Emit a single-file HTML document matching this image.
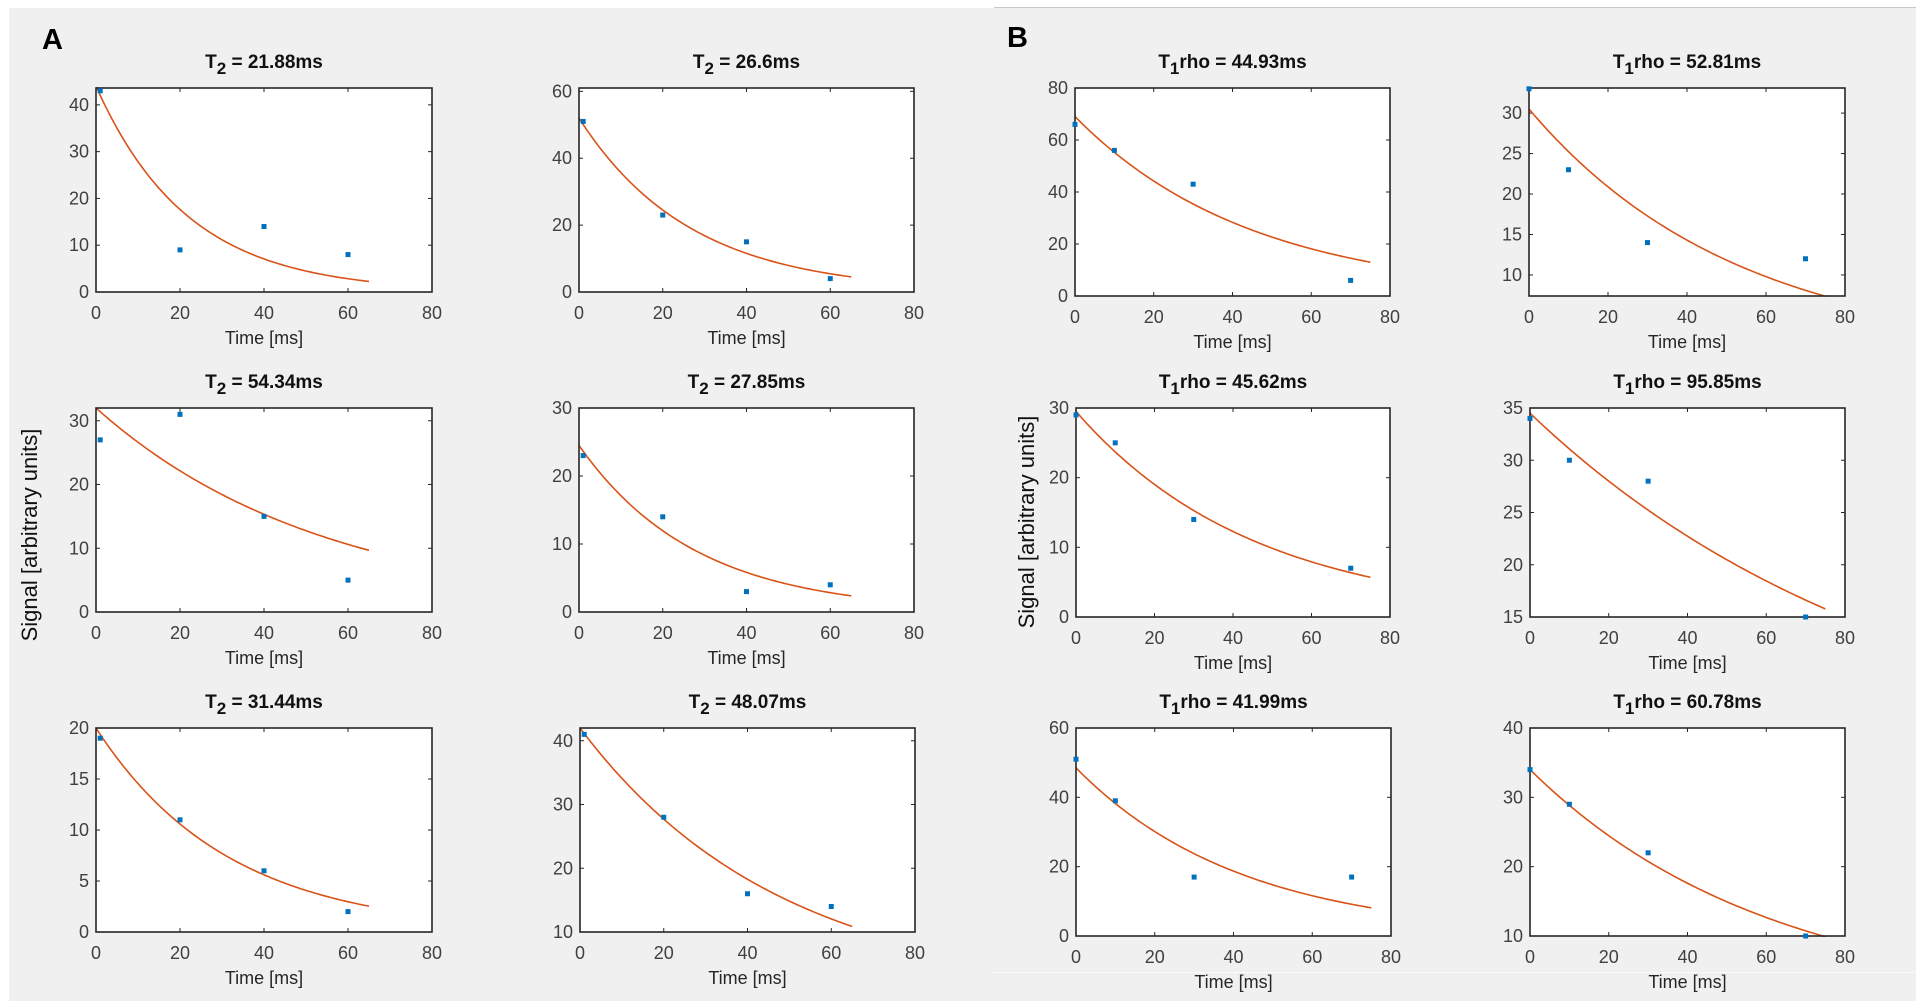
<!DOCTYPE html>
<html><head><meta charset="utf-8"><style>
body{margin:0;width:1916px;height:1003px;background:#fff;overflow:hidden;font-family:"Liberation Sans",Arial,sans-serif}
svg{display:block}
</style></head><body>
<svg id="fig" width="1916" height="1003" xmlns="http://www.w3.org/2000/svg">
<rect x="9" y="8" width="985" height="993" fill="#f0f0f0"/>
<rect x="994" y="8" width="922" height="993" fill="#f0f0f0"/>
<line x1="994" y1="7.5" x2="1916" y2="7.5" stroke="#c8c8c8"/>
<line x1="994" y1="972.5" x2="1916" y2="972.5" stroke="#fafafa"/>
<text x="42" y="49" font-size="29" font-weight="bold">A</text>
<text x="1007" y="47" font-size="29" font-weight="bold">B</text>
<text transform="translate(37,535) rotate(-90)" text-anchor="middle" font-size="22" fill="#111">Signal [arbitrary units]</text>
<text transform="translate(1034,522) rotate(-90)" text-anchor="middle" font-size="22" fill="#111">Signal [arbitrary units]</text>
</svg>
<script>
// ---- data ----
const titlePrefix = ["T2","T2","T2","T2","T2","T2","T1rho","T1rho","T1rho","T1rho","T1rho","T1rho"];
const titleValues = ["21.88","26.6","54.34","27.85","31.44","48.07","44.93","52.81","45.62","95.85","41.99","60.78"];
const timeA = [1,20,40,60];
const timeB = [0,10,30,70];
const sig1 = [43,9,14,8];
const sig2 = [51,23,15,4];
const sig3 = [27,31,15,5];
const sig4 = [23,14,3,4];
const sig5 = [19,11,6,2];
const sig6 = [41,28,16,14];
const sig7 = [66,56,43,6];
const sig8 = [33,23,14,12];
const sig9 = [29,25,14,7];
const sig10 = [34,30,28,15];
const sig11 = [51,39,17,17];
const sig12 = [34,29,22,10];
const fitS0 = [44,52,32,24.5,20,42,69,30.5,29.5,34.5,48.5,34];
const fitT = [21.88,26.6,54.34,27.85,31.44,48.07,44.93,52.81,45.62,95.85,41.99,60.78];
const fitEnd = [65,65,65,65,65,65,75,75,75,75,75,75];
const yMin = [0,0,0,0,0,10,0,7.4,0,15,0,10];
const yMax = [43.6,61,32,30,20,42,80,33.1,30,35,60,40];
const yTicks1 = [0,10,20,30,40];
const yTicks2 = [0,20,40,60];
const yTicks3 = [0,10,20,30];
const yTicks4 = [0,10,20,30];
const yTicks5 = [0,5,10,15,20];
const yTicks6 = [10,20,30,40];
const yTicks7 = [0,20,40,60,80];
const yTicks8 = [10,15,20,25,30];
const yTicks9 = [0,10,20,30];
const yTicks10 = [15,20,25,30,35];
const yTicks11 = [0,20,40,60];
const yTicks12 = [10,20,30,40];
const xTicks = [0,20,40,60,80];
const xMax = 80;

const sigs=[sig1,sig2,sig3,sig4,sig5,sig6,sig7,sig8,sig9,sig10,sig11,sig12];
const yTicks=[yTicks1,yTicks2,yTicks3,yTicks4,yTicks5,yTicks6,yTicks7,yTicks8,yTicks9,yTicks10,yTicks11,yTicks12];
// layout
const boxes=[[96,88,336,204],[579,88,335,204],[96,408,336,204],[579,408,335,204],[96,728,336,204],[580,728,335,204],
 [1075,88,315,208],[1529,88,316,208],[1076,408,314,209],[1530,408,315,209],[1076,728,315,208],[1530,728,315,208]];
const NS="http://www.w3.org/2000/svg";
const svg=document.getElementById('fig');
function mk(t,a,p){const e=document.createElementNS(NS,t);for(const k in a)e.setAttribute(k,a[k]);(p||svg).appendChild(e);return e;}
boxes.forEach((b,i)=>{
  const [L,T,W,H]=b;
  const g=mk('g',{});
  
  
  const xs=v=>L+v/xMax*W;
  const ys=v=>T+H-(v-yMin[i])/(yMax[i]-yMin[i])*H;
  const bg=mk('rect',{x:L,y:T,width:W,height:H,fill:'#fff'},g);
  
  
  const tt=mk('text',{x:L+W/2,y:T-20,'text-anchor':'middle','font-size':19,'font-weight':'bold',fill:'#111'},g);
  
  
  const p=titlePrefix[i];
  const s1=document.createElementNS(NS,'tspan');s1.textContent='T';tt.appendChild(s1);
  const s2=document.createElementNS(NS,'tspan');s2.setAttribute('dy','6');s2.setAttribute('font-size','17');s2.textContent=p.charAt(1);tt.appendChild(s2);
  const s3=document.createElementNS(NS,'tspan');s3.setAttribute('dy','-6');s3.textContent=p.slice(2)+' = '+titleValues[i]+'ms';tt.appendChild(s3);
  xTicks.forEach(v=>{
    const x=xs(v);
    mk('line',{x1:x,y1:T+H,x2:x,y2:T+H-4,stroke:'#262626'},g);
    mk('line',{x1:x,y1:T,x2:x,y2:T+4,stroke:'#262626'},g);
    const tl=mk('text',{x:x,y:T+H+27,'text-anchor':'middle','font-size':18,fill:'#404040'},g);
    
    
    tl.textContent=v;
  });
  yTicks[i].forEach(v=>{
    const y=ys(v);
    mk('line',{x1:L,y1:y,x2:L+4,y2:y,stroke:'#262626'},g);
    mk('line',{x1:L+W,y1:y,x2:L+W-4,y2:y,stroke:'#262626'},g);
    const tl=mk('text',{x:L-7,y:y+6,'text-anchor':'end','font-size':18,fill:'#404040'},g);
    
    
    tl.textContent=v;
  });
  const xt=mk('text',{x:L+W/2,y:T+H+52,'text-anchor':'middle','font-size':18,fill:'#262626'},g);
  
  
  xt.textContent='Time [ms]';
  let d='';
  for(let k=0;k<=100;k++){const t=fitEnd[i]*k/100;const v=fitS0[i]*Math.exp(-t/fitT[i]);d+=(k?'L':'M')+xs(t).toFixed(2)+','+ys(v).toFixed(2);}
  const cp=mk('clipPath',{id:'c'+i},g);mk('rect',{x:L,y:T-1,width:W,height:H+2},cp);
  const fc=mk('path',{d:d,fill:'none',stroke:'#D95319','stroke-width':1.6,'clip-path':'url(#c'+i+')'},g);
  
  
  const bx=mk('rect',{x:L,y:T,width:W,height:H,fill:'none',stroke:'#262626','stroke-width':1.6},g);
  
  
  const tm=i<6?timeA:timeB;
  sigs[i].forEach((v,k)=>{
    const m=mk('rect',{x:xs(tm[k])-2.5,y:ys(v)-2.5,width:5,height:5,fill:'#0072BD'},g);
    
    
  });
});
</script>
</body></html>
